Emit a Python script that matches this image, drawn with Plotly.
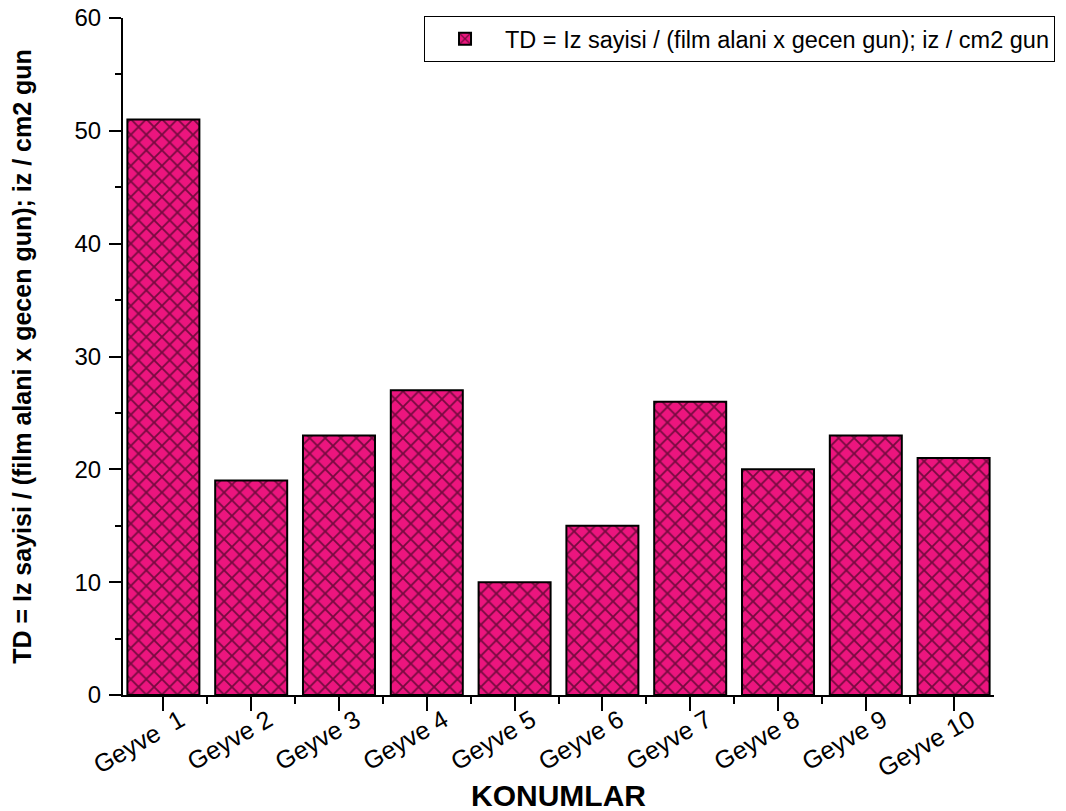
import plotly.graph_objects as go

categories = ["Geyve\u00a0\u00a01", "Geyve 2", "Geyve 3", "Geyve 4", "Geyve 5",
              "Geyve 6", "Geyve 7", "Geyve 8", "Geyve 9", "Geyve 10"]
td_values = [51, 19, 23, 27, 10, 15, 26, 20, 23, 21]
y_ticks = [0, 10, 20, 30, 40, 50, 60]

series_name = "TD = Iz sayisi / (film alani x gecen gun); iz / cm2 gun"
y_title = "TD = Iz sayisi / (film alani x gecen gun); iz / cm2 gun"
x_title = "KONUMLAR"

positions = list(range(len(categories)))

fig = go.Figure()
fig.add_trace(go.Bar(
    x=positions,
    y=td_values,
    name=series_name,
    width=0.82,
    marker=dict(
        color="#EC157E",
        line=dict(color="black", width=2),
        pattern=dict(shape="x", fgcolor="black", bgcolor="#EC157E",
                     size=11, solidity=0.3, fillmode="overlay"),
    ),
    showlegend=True,
))

font_family = "Liberation Sans, Arial, sans-serif"

fig.update_layout(
    width=1066, height=811,
    margin=dict(l=115, r=80, t=10, b=124, autoexpand=False),
    paper_bgcolor="white", plot_bgcolor="white",
    font=dict(family=font_family, color="black"),
    showlegend=True,
    legend=dict(
        x=0.3456, y=1.003, xanchor="left", yanchor="top",
        bordercolor="black", borderwidth=1,
        bgcolor="white", itemwidth=70,
        font=dict(size=23.5, family=font_family),
    ),
    xaxis=dict(
        range=[-0.46, 9.46],
        automargin=False,
        tickmode="array", tickvals=positions, ticktext=categories,
        tickangle=-30,
        tickfont=dict(size=25),
        ticklabelstandoff=-15,
        ticklabelshift=17,
        ticklabeloverflow="allow",
        ticks="outside", ticklen=14, tickwidth=2, tickcolor="black",
        showline=True, linecolor="black", linewidth=2,
        showgrid=False, zeroline=False,
        minor=dict(tick0=0.5, dtick=1, ticks="outside", ticklen=7,
                   tickwidth=2, tickcolor="black", showgrid=False),
        title=dict(text="<b>" + x_title + "</b>", font=dict(size=30), standoff=4),
    ),
    yaxis=dict(
        range=[0, 60],
        automargin=False,
        tickmode="array", tickvals=y_ticks,
        tickfont=dict(size=24),
        ticklabelstandoff=3,
        ticklabeloverflow="allow",
        ticks="outside", ticklen=12, tickwidth=2, tickcolor="black",
        showline=True, linecolor="black", linewidth=2,
        showgrid=False, zeroline=False,
        minor=dict(dtick=5, tick0=0, ticks="outside", ticklen=6,
                   tickwidth=2, tickcolor="black", showgrid=False),
        title=dict(text="<b>" + y_title + "</b>", font=dict(size=25), standoff=40),
    ),
)

fig.write_html("out.html")
